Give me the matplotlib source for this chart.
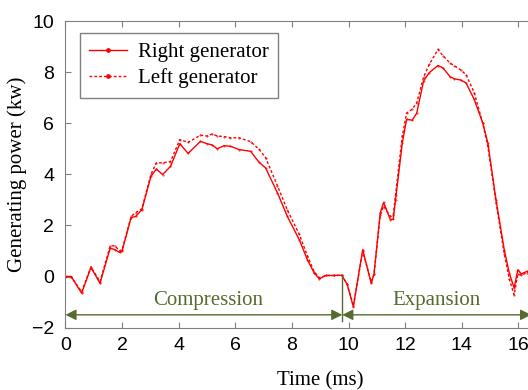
import matplotlib.pyplot as plt

# Time axis (ms) and generating power (kW) for both generators
time_ms = [0.0, 0.2, 0.57, 0.9, 1.22, 1.58, 1.75, 1.91, 2.0, 2.32, 2.48, 2.7,
           3.02, 3.21, 3.43, 3.71, 4.04, 4.33, 4.77, 5.0, 5.18, 5.36, 5.6, 5.83,
           6.13, 6.54, 6.84, 7.07, 7.49, 7.84, 8.26, 8.55, 8.79, 8.97, 9.2, 9.5,
           9.76, 9.95, 10.17, 10.5, 10.8, 10.9, 11.12, 11.24, 11.48, 11.58, 11.66,
           11.9, 12.05, 12.25, 12.41, 12.65, 12.85, 13.16, 13.33, 13.59, 13.74,
           13.97, 14.15, 14.44, 14.74, 14.92, 15.21, 15.5, 15.68, 15.85, 15.98,
           16.1, 16.3, 16.6]

right_gen = [0.0, 0.0, -0.65, 0.35, -0.26, 1.11, 1.05, 0.94, 1.0, 2.31, 2.35, 2.62,
             3.92, 4.21, 3.99, 4.31, 5.2, 4.82, 5.29, 5.2, 5.15, 5.0, 5.12, 5.1,
             4.97, 4.9, 4.47, 4.25, 3.27, 2.35, 1.44, 0.65, 0.13, -0.09, 0.04, 0.04,
             0.05, -0.3, -1.18, 1.05, -0.26, 0.1, 2.49, 2.9, 2.22, 2.25, 3.0,
             5.23, 6.15, 6.12, 6.4, 7.65, 7.98, 8.26, 8.17, 7.82, 7.74,
             7.69, 7.58, 6.93, 6.02, 5.23, 3.0, 1.05, 0.13, -0.45, 0.26,
             0.1, 0.2, 0.1]

left_gen = [0.0, 0.0, -0.6, 0.38, -0.2, 1.2, 1.2, 1.0, 1.05, 2.35, 2.5, 2.65,
            4.0, 4.45, 4.45, 4.5, 5.36, 5.25, 5.53, 5.5, 5.58, 5.5, 5.48, 5.43,
            5.43, 5.28, 4.98, 4.65, 3.55, 2.6, 1.65, 0.8, 0.18, -0.05, 0.04, 0.04,
            0.05, -0.3, -1.15, 1.0, -0.22, 0.1, 2.4, 2.75, 2.35, 2.4, 3.2,
            5.5, 6.4, 6.55, 6.8, 7.8, 8.3, 8.89, 8.65, 8.35, 8.25,
            8.08, 7.9, 7.2, 6.0, 5.1, 2.9, 0.9, -0.1, -0.72, 0.1,
            0.05, 0.15, 0.1]

series_labels = ["Right generator", "Left generator"]

# Stroke boundaries (ms)
stroke_start, stroke_split, stroke_end = 0.0, 9.78, 16.45

olive = "#556B2F"
spine_grey = "#808080"

fig = plt.figure(figsize=(5.28, 3.9), dpi=100)
ax = fig.add_axes([0.124, 0.160, 0.965, 0.786])

ax.plot(time_ms, right_gen, color="red", lw=1.0, marker=".", ms=0.8,
        label=series_labels[0])
ax.plot(time_ms, left_gen, color="red", lw=1.0, ls=(0, (2, 1.5)), marker=".",
        ms=0.8, label=series_labels[1])

# Compression / expansion arrows
arrow_y = -1.5
arrow_style = dict(arrowstyle="<|-|>", color=olive, lw=1.0, mutation_scale=16,
                   shrinkA=0, shrinkB=0)
ax.annotate("", xy=(stroke_start, arrow_y), xytext=(stroke_split, arrow_y),
            arrowprops=arrow_style)
ax.annotate("", xy=(stroke_split, arrow_y), xytext=(stroke_end, arrow_y),
            arrowprops=arrow_style)
ax.plot([stroke_split, stroke_split], [0.07, -1.76], color=olive, lw=1.0)
ax.text(5.05, -1.1, "Compression", color=olive, fontsize=15,
        family="Liberation Serif", ha="center", va="baseline")
ax.text(13.1, -1.1, "Expansion", color=olive, fontsize=15,
        family="Liberation Serif", ha="center", va="baseline")

ax.set_xlim(0, 18)
ax.set_ylim(-2, 10)
ax.set_xticks(range(0, 19, 2))
ax.set_yticks(range(-2, 11, 2))
ax.tick_params(direction="in", top=True, length=4, color=spine_grey,
               labelsize=14)
ax.tick_params(axis="x", pad=7)
ax.tick_params(axis="y", pad=8)
for lbl in ax.get_xticklabels() + ax.get_yticklabels():
    lbl.set_family("Liberation Sans")
for sp in ax.spines.values():
    sp.set_color(spine_grey)

ax.set_xlabel("Time (ms)", fontsize=15, family="Liberation Serif", labelpad=12)
ax.set_ylabel("Generating power (kw)", fontsize=15, family="Liberation Serif",
              labelpad=4)

leg = ax.legend(loc="upper left", bbox_to_anchor=(0.028, 0.961),
                borderaxespad=0, fancybox=False, edgecolor=spine_grey,
                framealpha=1, markerscale=6, handlelength=1.8,
                handletextpad=0.55, labelspacing=0.3, borderpad=0.45,
                prop={"family": "Liberation Serif", "size": 15})
leg.get_frame().set_linewidth(1.0)

fig.savefig("out.png", dpi=100)
